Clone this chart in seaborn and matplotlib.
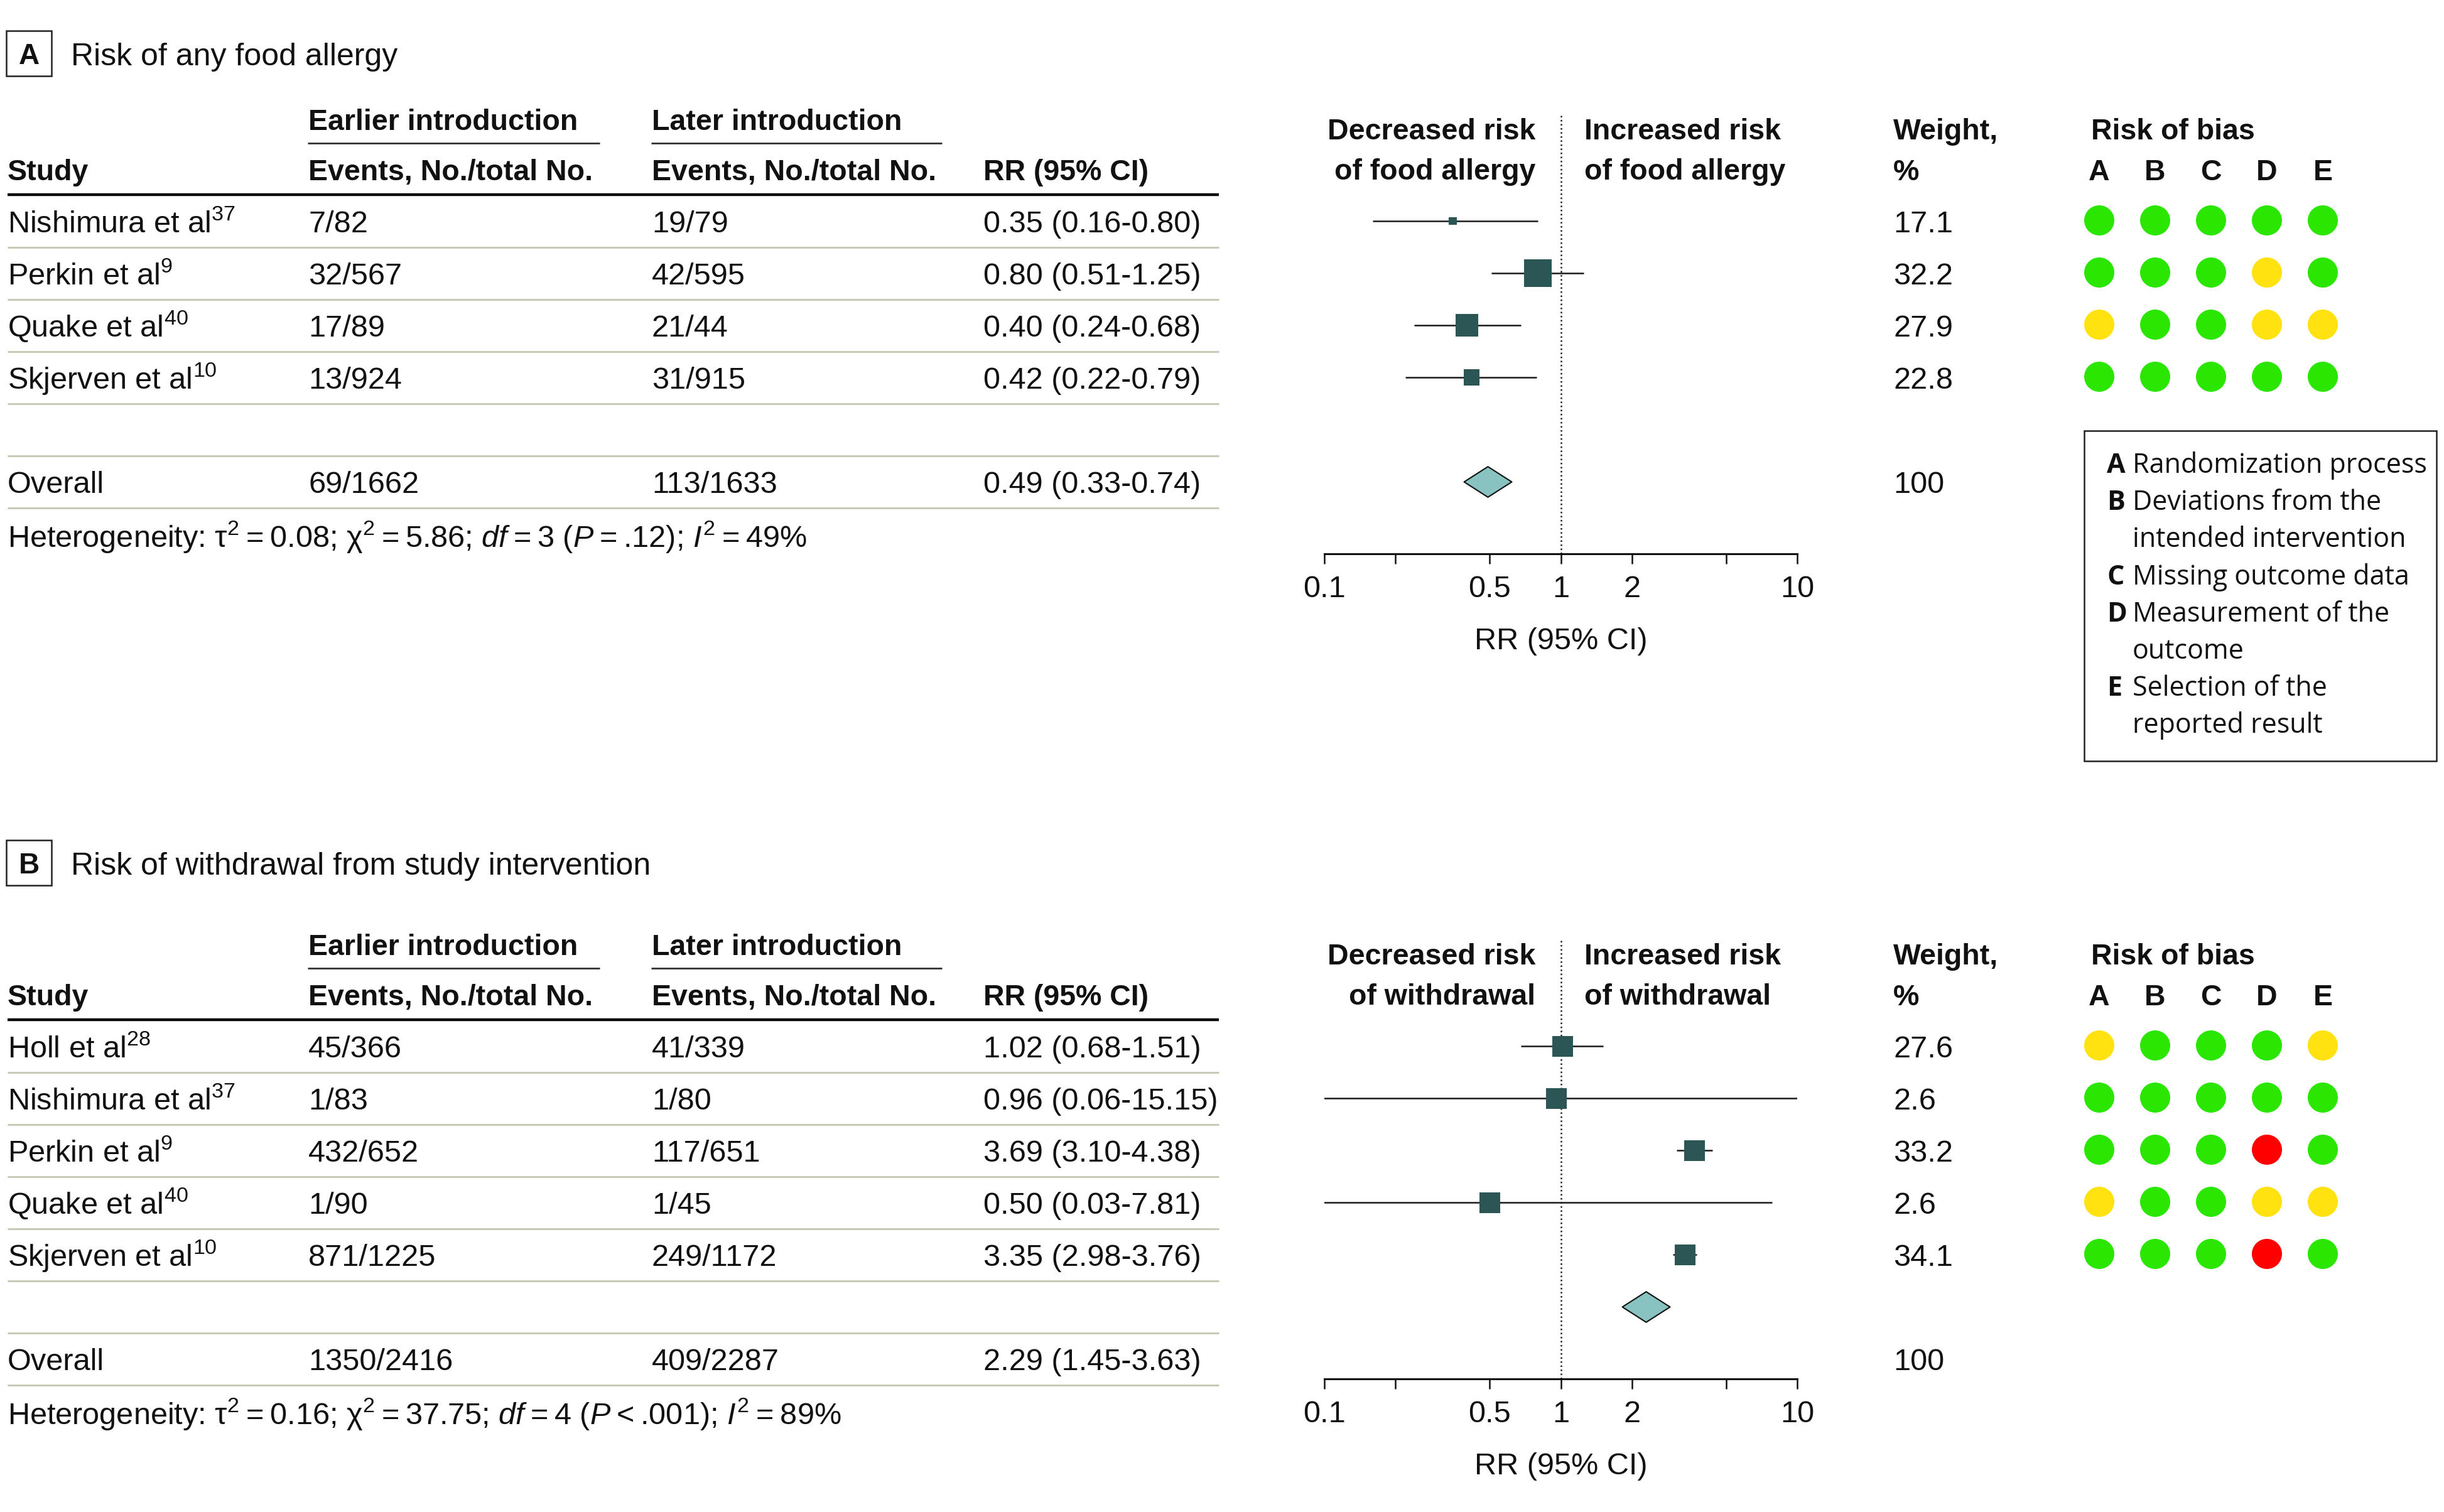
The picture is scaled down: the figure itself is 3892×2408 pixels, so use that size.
import matplotlib
matplotlib.use("Agg")
import matplotlib.pyplot as plt
import pandas as pd
import seaborn as sns
from matplotlib import font_manager
from matplotlib.patches import Rectangle
from matplotlib.path import Path
from matplotlib.ticker import FixedLocator, FixedFormatter, NullLocator

# ---------------- data ----------------
domains = ["A", "B", "C", "D", "E"]
domain_names = [["Randomization process"],
                ["Deviations from the", "intended intervention"],
                ["Missing outcome data"],
                ["Measurement of the", "outcome"],
                ["Selection of the", "reported result"]]

# panel A - risk of any food allergy
a_study = ["Nishimura et al", "Perkin et al", "Quake et al", "Skjerven et al"]
a_ref = ["37", "9", "40", "10"]
a_early = ["7/82", "32/567", "17/89", "13/924"]
a_late = ["19/79", "42/595", "21/44", "31/915"]
a_rr = [0.35, 0.80, 0.40, 0.42]
a_lo = [0.16, 0.51, 0.24, 0.22]
a_hi = [0.80, 1.25, 0.68, 0.79]
a_weight = [17.1, 32.2, 27.9, 22.8]
a_bias = [["low", "low", "low", "low", "low"],
          ["low", "low", "low", "some", "low"],
          ["some", "low", "low", "some", "some"],
          ["low", "low", "low", "low", "low"]]
a_overall = ["69/1662", "113/1633"]
a_overall_rr = [0.49, 0.33, 0.74]
a_het = "Heterogeneity: τ$^2$\u2009=\u20090.08; χ$^2$\u2009=\u20095.86; $df$\u2009=\u20093 ($P$\u2009=\u2009.12); $I^2$\u2009=\u200949%"

# panel B - risk of withdrawal from study intervention
b_study = ["Holl et al", "Nishimura et al", "Perkin et al", "Quake et al", "Skjerven et al"]
b_ref = ["28", "37", "9", "40", "10"]
b_early = ["45/366", "1/83", "432/652", "1/90", "871/1225"]
b_late = ["41/339", "1/80", "117/651", "1/45", "249/1172"]
b_rr = [1.02, 0.96, 3.69, 0.50, 3.35]
b_lo = [0.68, 0.06, 3.10, 0.03, 2.98]
b_hi = [1.51, 15.15, 4.38, 7.81, 3.76]
b_weight = [27.6, 2.6, 33.2, 2.6, 34.1]
b_bias = [["some", "low", "low", "low", "some"],
          ["low", "low", "low", "low", "low"],
          ["low", "low", "low", "high", "low"],
          ["some", "low", "low", "some", "some"],
          ["low", "low", "low", "high", "low"]]
b_overall = ["1350/2416", "409/2287"]
b_overall_rr = [2.29, 1.45, 3.63]
b_het = "Heterogeneity: τ$^2$\u2009=\u20090.16; χ$^2$\u2009=\u200937.75; $df$\u2009=\u20094 ($P$\u2009<\u2009.001); $I^2$\u2009=\u200989%"

rr_ticks = [0.1, 0.2, 0.5, 1, 2, 5, 10]
rr_ticklabels = ["0.1", "", "0.5", "1", "2", "", "10"]

# ---------------- style ----------------
BIAS_COLORS = {"low": "#2ae600", "some": "#ffe20f", "high": "#ff0000"}
SQUARE = "#2b5655"
DIAMOND = "#88c3c1"
SEP = "#c6cab6"

sns.set_theme(style="white")
names = {f.name for f in font_manager.fontManager.ttflist}
main_font = next(f for f in ["Liberation Sans", "Arial", "DejaVu Sans"] if f in names)
box_font = next(f for f in ["Open Sans", "Noto Sans", "DejaVu Sans"] if f in names)
plt.rcParams["font.family"] = [main_font, "DejaVu Sans"]
plt.rcParams["mathtext.fontset"] = "custom"
plt.rcParams["mathtext.rm"] = main_font
plt.rcParams["mathtext.it"] = main_font + ":italic"
plt.rcParams["mathtext.bf"] = main_font + ":bold"
plt.rcParams["text.color"] = "#111111"

W, H, DPI = 3892, 2408, 100
FS = 35
FS_HEAD = 33.5
COL_STUDY, COL_EARLY, COL_LATE, COL_RR = 12, 491, 1038, 1566
TABLE_RIGHT = 1941
COL_WEIGHT = 3015
ROB_X0, ROB_DX = 3343, 89
RR_X0, RR_X1 = 2109, 2862
ROW0, ROW_STEP = 370, 83


def pt(px):
    return px * 72 / DPI


diamond = Path([(-1, 0), (0, 0.64), (1, 0), (0, -0.64), (-1, 0)],
               [Path.MOVETO, Path.LINETO, Path.LINETO, Path.LINETO, Path.CLOSEPOLY])

fig = plt.figure(figsize=(W / DPI, H / DPI), dpi=DPI, facecolor="white")
ax0 = fig.add_axes([0, 0, 1, 1])
ax0.axis("off")


def txt(x, y, s, **kw):
    kw.setdefault("fontsize", FS)
    kw.setdefault("va", "baseline")
    ax0.text(x, y, s, **kw)


def head(x, y, s, **kw):
    txt(x, y, s, fontsize=FS_HEAD, fontweight="bold", **kw)


def hline(x0, x1, y, color, lw):
    ax0.plot([x0, x1], [y, y], color=color, lw=lw, solid_capstyle="butt")


def draw_panel(y0, ty, letter, title, study, ref, early, late, rr, lo, hi, weight,
               bias, overall, overall_rr, het, outcome, square_px, diamond_row):
    n = len(study)
    base = [y0 + ROW0 + i * ROW_STEP for i in range(n + 2)]

    # panel title
    ax0.add_patch(Rectangle((10, ty + 49), 72, 72, fill=False, lw=1.8, ec="#222222"))
    txt(46, ty + 102, letter, ha="center", fontsize=33, fontweight="bold")
    txt(113, ty + 104, title, fontsize=36)

    # table header
    for x, lab, x1 in [(COL_EARLY, "Earlier introduction", 955),
                       (COL_LATE, "Later introduction", 1500)]:
        head(x, y0 + 207, lab)
        hline(x - 1, x1, y0 + 228, "#333333", 2.0)
    for x, lab in [(COL_STUDY, "Study"), (COL_EARLY, "Events, No./total No."),
                   (COL_LATE, "Events, No./total No."), (COL_RR, "RR (95% CI)")]:
        head(x, y0 + 287, lab)
    hline(12, TABLE_RIGHT, y0 + 310, "black", 3.2)

    # table rows
    for i in range(n):
        b = base[i]
        txt(COL_STUDY, b, f"{study[i]}$^{{{ref[i]}}}$")
        txt(COL_EARLY, b, early[i])
        txt(COL_LATE, b, late[i])
        txt(COL_RR, b, f"{rr[i]:.2f} ({lo[i]:.2f}-{hi[i]:.2f})")
        txt(COL_WEIGHT, b, f"{weight[i]:.1f}")
    b = base[n + 1]
    txt(COL_STUDY, b, "Overall")
    txt(COL_EARLY, b, overall[0])
    txt(COL_LATE, b, overall[1])
    txt(COL_RR, b, f"{overall_rr[0]:.2f} ({overall_rr[1]:.2f}-{overall_rr[2]:.2f})")
    txt(COL_WEIGHT, b, "100")
    for i in range(n + 2):
        hline(12, TABLE_RIGHT, base[i] + 24, SEP, 2.2)
    txt(COL_STUDY, base[n + 1] + 86, het)

    # forest header
    head(2445, y0 + 222, "Decreased risk", ha="right")
    head(2445, y0 + 286, f"of {outcome}", ha="right")
    head(2523, y0 + 222, "Increased risk")
    head(2523, y0 + 286, f"of {outcome}")
    head(COL_WEIGHT, y0 + 222, "Weight,")
    head(COL_WEIGHT, y0 + 287, "%")
    head(3330, y0 + 222, "Risk of bias")
    for j, d in enumerate(domains):
        head(ROB_X0 + j * ROB_DX, y0 + 287, d, ha="center")

    # risk of bias dots
    rob = pd.DataFrame([{"x": ROB_X0 + j * ROB_DX, "y": base[i] - 19, "judgement": bias[i][j]}
                        for i in range(n) for j in range(len(domains))])
    sns.scatterplot(data=rob, x="x", y="y", hue="judgement", palette=BIAS_COLORS,
                    s=pt(48) ** 2, linewidth=0, legend=False, ax=ax0)

    # forest plot
    top, bottom = y0 + 180, y0 + 882
    fx = fig.add_axes([RR_X0 / W, 1 - bottom / H, (RR_X1 - RR_X0) / W, (bottom - top) / H])
    fx.patch.set_visible(False)
    fx.set_xscale("log")
    centers = [bb - 18 for bb in base[:n]]
    fx.axvline(1, color="#222222", lw=1.8, ls=(0, (1, 1.6)), zorder=1)
    fx.hlines(centers, lo, hi, color="#1a1a1a", lw=1.8, zorder=2)
    fx.scatter(rr, centers, marker="s", s=[pt(p) ** 2 for p in square_px],
               color=SQUARE, linewidths=0, zorder=3)
    fx.plot([overall_rr[0]], [base[diamond_row] - 18], marker=diamond, ms=pt(76),
            mfc=DIAMOND, mec="#111111", mew=1.5, ls="none", zorder=3)
    fx.set_xlim(0.1, 10)
    fx.set_ylim(bottom, top)
    for s in ["top", "left", "right"]:
        fx.spines[s].set_visible(False)
    fx.spines["bottom"].set_linewidth(2.2)
    fx.spines["bottom"].set_color("#111111")
    fx.xaxis.set_major_locator(FixedLocator(rr_ticks))
    fx.xaxis.set_major_formatter(FixedFormatter(rr_ticklabels))
    fx.xaxis.set_minor_locator(NullLocator())
    fx.tick_params(axis="x", bottom=True, length=11.5, width=1.8, pad=13,
                   labelsize=FS, color="#111111", labelcolor="#111111")
    fx.set_yticks([])
    fx.set_xlabel("RR (95% CI)", fontsize=FS, labelpad=27, color="#111111")


a_square = [2.12 * (w - 11) for w in a_weight]
b_square = [33 for w in b_weight]

draw_panel(0, 0, "A", "Risk of any food allergy", a_study, a_ref, a_early, a_late,
           a_rr, a_lo, a_hi, a_weight, a_bias, a_overall, a_overall_rr, a_het,
           "food allergy", a_square, len(a_study) + 1)
draw_panel(1314, 1289, "B", "Risk of withdrawal from study intervention", b_study, b_ref,
           b_early, b_late, b_rr, b_lo, b_hi, b_weight, b_bias, b_overall, b_overall_rr,
           b_het, "withdrawal", b_square, len(b_study))

# risk of bias key
ax0.add_patch(Rectangle((3319, 686), 561, 526, fill=False, lw=1.8, ec="#222222"))
line = 0
for d, lines in zip(domains, domain_names):
    for k, s in enumerate(lines):
        y = 753 + line * 59.2
        if k == 0:
            txt(3355, y, d, fontsize=31, fontweight="bold", family=box_font)
        txt(3396, y, s, fontsize=31, family=box_font)
        line += 1

ax0.set_xlim(0, W)
ax0.set_ylim(H, 0)

fig.savefig("out.png", dpi=DPI, facecolor="white")
